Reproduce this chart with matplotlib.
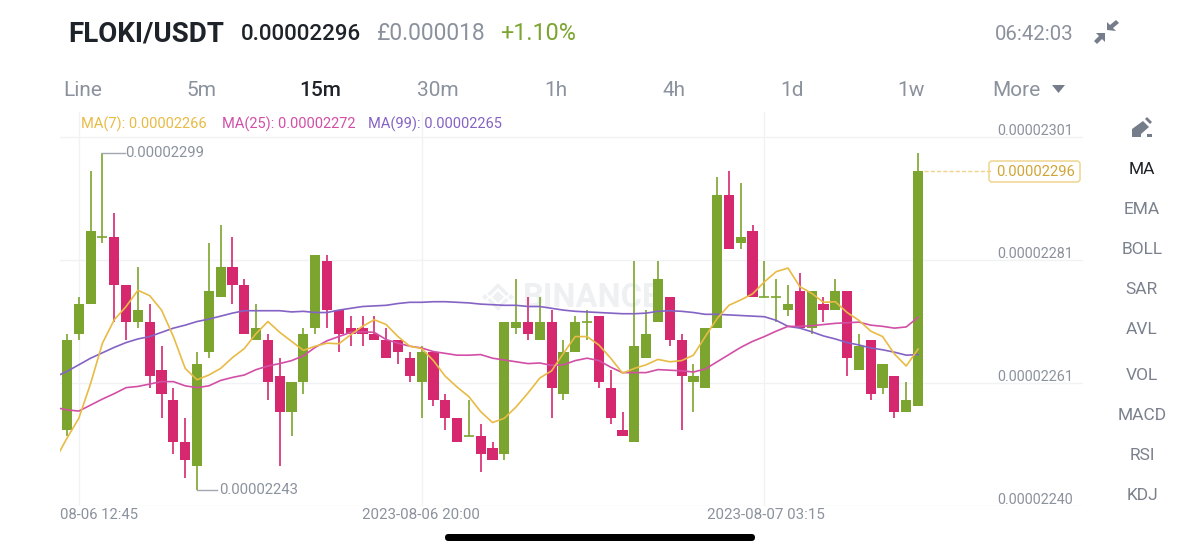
import numpy as np
import matplotlib
matplotlib.use("Agg")
import matplotlib.pyplot as plt
from matplotlib.patches import Polygon, FancyBboxPatch

plt.rcParams['font.family'] = ['Roboto', 'DejaVu Sans']

# prices are in units of 1e-8 USDT
opens = [2253,2269,2274,2285,2285,2277,2271,2271,2263,2258,2251,2247,2266,2275,2280,2277,2268,2268,2262,2256,
         2261,2270,2281,2273,2270,2270,2269,2268,2268,2265,2261,2266,2258,2255,2252,2252,2250,2249,2270,2271,
         2268,2271,2259,2266,2271,2272,2260,2253,2251,2265,2271,2275,2268,2261,2260,2270,2292,2284,2286,2275,
         2275,2273,2276,2270,2274,2273,2276,2263,2268,2260,2262,2256,2257]
closes = [2268,2274,2286,2285,2277,2271,2273,2262,2259,2251,2248,2264,2276,2280,2277,2269,2270,2261,2256,2261,
          2269,2282,2273,2269,2269,2269,2268,2265,2266,2262,2266,2258,2255,2251,2252,2249,2248,2271,2271,2269,
          2271,2260,2266,2271,2271,2261,2255,2252,2267,2269,2278,2268,2262,2262,2270,2292,2283,2285,2275,2275,
          2275,2274,2270,2276,2273,2276,2265,2267,2259,2264,2256,2258,2296]
highs = [2269,2275,2296,2299,2289,2277,2280,2274,2267,2260,2255,2266,2284,2287,2285,2278,2274,2269,2265,2261,
         2270,2282,2282,2273,2272,2272,2272,2270,2268,2266,2267,2266,2259,2255,2258,2254,2251,2271,2278,2275,
         2275,2273,2268,2272,2273,2272,2263,2256,2281,2273,2281,2275,2269,2264,2270,2295,2296,2294,2287,2281,
         2278,2277,2279,2276,2275,2278,2276,2269,2268,2264,2262,2261,2299]
lows = [2252,2268,2274,2284,2271,2268,2270,2260,2255,2249,2245,2243,2265,2275,2274,2269,2268,2258,2247,2252,
        2259,2269,2270,2266,2267,2267,2268,2265,2264,2261,2255,2257,2253,2251,2252,2246,2248,2248,2269,2268,
        2268,2255,2258,2266,2268,2260,2254,2252,2251,2265,2271,2267,2253,2256,2260,2270,2283,2283,2275,2275,
        2271,2272,2270,2269,2271,2273,2262,2263,2258,2259,2255,2256,2257]

# moving averages, first value sits one candle left of the first candle (clipped)
ma7 = [2248.0,2251.6,2254.9,2260.7,2267.4,2271.3,2273.5,2276.2,2275.3,2272.9,2268.5,2263.2,2261.3,2262.1,2263.2,
       2265.0,2266.5,2269.0,2271.0,2269.2,2267.7,2266.2,2266.9,2267.4,2267.3,2268.8,2270.2,2271.3,2270.5,2268.5,
       2266.9,2266.5,2264.5,2261.9,2260.1,2258.5,2256.0,2254.2,2254.9,2256.8,2259.1,2261.6,2262.8,2265.7,2268.5,
       2268.5,2267.1,2264.9,2262.4,2263.2,2263.8,2264.7,2264.3,2264.5,2265.4,2268.5,2271.5,2273.7,2274.6,2275.6,
       2277.6,2279.3,2279.9,2276.8,2275.7,2274.2,2274.3,2272.5,2271.2,2269.4,2268.5,2265.6,2263.6,2266.4]
ma25 = [2256.7,2256.3,2256.1,2257.1,2258.1,2259.0,2260.0,2260.2,2260.6,2261.0,2261.0,2260.3,2260.0,2260.3,2261.2,
        2261.7,2262.1,2263.0,2263.6,2264.0,2264.5,2265.3,2266.7,2267.8,2268.5,2269.2,2269.3,2269.2,2268.0,2267.4,
        2266.9,2266.6,2266.0,2265.7,2265.4,2265.4,2265.5,2264.9,2264.6,2264.3,2264.0,2264.1,2263.7,2263.8,2264.5,
        2264.9,2264.5,2263.4,2262.5,2262.5,2262.5,2263.0,2262.9,2262.8,2262.6,2263.1,2264.3,2265.5,2266.7,2267.7,
        2268.5,2269.4,2270.2,2270.2,2270.3,2270.5,2270.7,2270.8,2270.9,2270.4,2270.2,2269.9,2270.1,2271.7]
ma99 = [2261.8,2262.7,2263.8,2264.9,2265.8,2266.7,2267.5,2268.1,2268.5,2269.2,2269.9,2270.4,2271.0,2271.4,2271.9,
        2272.4,2272.8,2272.8,2272.8,2272.8,2272.6,2272.7,2272.5,2272.5,2272.9,2273.2,2273.5,2273.6,2273.7,2274.0,
        2274.2,2274.2,2274.3,2274.3,2274.2,2274.1,2273.9,2273.8,2273.7,2273.7,2273.5,2273.5,2273.2,2272.9,2272.7,
        2272.6,2272.5,2272.4,2272.3,2272.3,2272.4,2272.7,2272.8,2272.7,2272.5,2272.2,2272.2,2272.1,2272.0,2271.9,
        2271.8,2271.2,2270.2,2269.9,2269.3,2268.6,2268.1,2267.5,2267.1,2266.6,2266.3,2265.9,2265.4,2265.5]

grid_prices = [2301.7, 2281.25, 2260.8, 2240.3]
grid_labels = ['0.00002301', '0.00002281', '0.00002261', '0.00002240']
time_pos = [1, 30, 59]
time_labels = ['08-06 12:45', '2023-08-06 20:00', '2023-08-07 03:15']
intervals = ['Line', '5m', '15m', '30m', '1h', '4h', '1d', '1w', 'More']
interval_x = [83, 201, 320, 438, 556, 674, 792, 911, 1016]
indicators = ['MA', 'EMA', 'BOLL', 'SAR', 'AVL', 'VOL', 'MACD', 'RSI', 'KDJ']
indicator_y = [170, 210, 250, 290, 330, 375.5, 415.5, 455.5, 495.5]

GREEN = '#7ba52f'
RED = '#d6286f'
YEL = '#e8bb45'
PINK = '#d24fa6'
PURP = '#8463c4'
GRID = '#f1f2f4'
GRAY = '#8b929d'
DARK = '#1e2329'

W, H = 1200, 554
fig = plt.figure(figsize=(12, 5.54), dpi=100)

# whole figure in pixels, for the app chrome
ui = fig.add_axes([0, 0, 1, 1], zorder=0)
ui.set_xlim(0, W)
ui.set_ylim(H, 0)
ui.axis('off')

# chart area: x 60..1083, y 112..506 px
x0, x1, y0, y1 = 60, 1083, 112, 506
ax = fig.add_axes([x0 / W, 1 - y1 / H, (x1 - x0) / W, (y1 - y0) / H], zorder=1)
ax.patch.set_alpha(0)
for s in ax.spines.values():
    s.set_visible(False)
ax.set_xlim((x0 - 67) / 11.82, (x1 - 67) / 11.82)
ax.set_ylim(2299 - (y1 - 153.3) / 6.01, 2299 + (153.3 - y0) / 6.01)
ax.set_yticks(grid_prices)
ax.set_xticks(time_pos)
ax.set_yticklabels([])
ax.set_xticklabels([])
ax.tick_params(length=0)
ax.grid(True, color=GRID, lw=1)
ax.set_axisbelow(True)

# candles
for i in range(len(opens)):
    col = GREEN if closes[i] >= opens[i] else RED
    ax.vlines(i, lows[i], highs[i], color=col, lw=1.2, zorder=2)
    if opens[i] == closes[i]:
        ax.hlines(opens[i], i - 0.42, i + 0.42, color=col, lw=1.2, zorder=2)
    else:
        ax.bar(i, closes[i] - opens[i], bottom=opens[i], width=0.86, color=col, zorder=3)

ma_x = np.arange(-1, len(opens))
ax.plot(ma_x, ma99, color=PURP, lw=1.2, zorder=4)
ax.plot(ma_x, ma25, color=PINK, lw=1.2, zorder=5)
ax.plot(ma_x, ma7, color=YEL, lw=1.2, zorder=6)

# high / low markers
ax.plot([3, 4.9], [highs[3], highs[3]], color='#a3a8b0', lw=1, zorder=2)
ax.annotate('0.00002299', xy=(4.9, highs[3]), xytext=(0, 0), textcoords='offset pixels',
            va='center', ha='left', fontsize=10.7, color=GRAY)
ax.plot([11, 12.7], [lows[11], lows[11]], color='#a3a8b0', lw=1, zorder=2)
ax.annotate('0.00002243', xy=(12.7, lows[11]), xytext=(2, 0), textcoords='offset pixels',
            va='center', ha='left', fontsize=10.7, color=GRAY)

# last price
ax.plot([72.5, 78.2], [closes[-1], closes[-1]], color='#f0d38a', lw=1, ls=(0, (3, 1.5)), zorder=2)
ui.add_patch(FancyBboxPatch((989, 161), 91, 21, boxstyle='round,pad=0,rounding_size=3',
                            fc='white', ec='#efd58f', lw=1.1, zorder=3))
ui.text(1035.5, 172, '0.00002296', ha='center', va='center', fontsize=10.6, color='#cfa536', zorder=4)

# price labels
for p, lab in zip(grid_prices, grid_labels):
    ax.annotate(lab, xy=(1, p), xycoords=('axes fraction', 'data'), xytext=(-10, 6),
                textcoords='offset pixels', ha='right', va='center', fontsize=10.4, color=GRAY)

# time labels
ui.text(60, 515, time_labels[0], ha='left', va='center', fontsize=10.7, color=GRAY)
ui.text(421, 515, time_labels[1], ha='center', va='center', fontsize=10.9, color=GRAY)
ui.text(766, 515, time_labels[2], ha='center', va='center', fontsize=10.9, color=GRAY)

# MA legend
ui.text(81, 124.5, 'MA(7): 0.00002266', va='center', fontsize=10.5, color=YEL)
ui.text(222, 124.5, 'MA(25): 0.00002272', va='center', fontsize=10.5, color=PINK)
ui.text(368, 124.5, 'MA(99): 0.00002265', va='center', fontsize=10.5, color=PURP)

# header
ui.text(68, 34, 'FLOKI/USDT', va='center', fontsize=20, fontweight='bold', color=DARK)
ui.text(241, 34, '0.00002296', va='center', fontsize=16, fontweight='medium', color=DARK)
ui.text(377, 34, '£0.000018', va='center', fontsize=16.4, color=GRAY)
ui.text(500, 34, '+1.10%', va='center', fontsize=16.8, color=GREEN)
ui.text(995, 34, '06:42:03', va='center', fontsize=14.7, color=GRAY)

# compress icon
ui.add_patch(Polygon([[1107, 30], [1107, 22], [1110, 25], [1116, 20], [1119, 23], [1113, 28], [1116, 31]],
                     fc='#767d8a', ec='none'))
ui.add_patch(Polygon([[1105, 33], [1105, 42], [1102, 39], [1097, 44], [1094, 41], [1099, 36], [1096, 33]],
                     fc='#767d8a', ec='none'))

# interval row
for lab, x in zip(intervals, interval_x):
    c = DARK if lab == '15m' else GRAY
    ui.text(x, 91, lab, ha='center', va='center', fontsize=15, color=c,
            fontweight='medium' if lab == '15m' else 'normal')
ui.add_patch(Polygon([[1052, 85], [1065, 85], [1058.5, 93]], fc='#767d8a', ec='none'))

# pen icon
ui.add_patch(Polygon([[1132, 137], [1132, 129], [1143, 121], [1149, 127], [1141, 134], [1141, 137]],
                     fc='#767d8a', ec='none'))
ui.add_patch(Polygon([[1145, 119], [1147, 117], [1152, 122], [1150, 124]], fc='#767d8a', ec='none'))
ui.add_patch(Polygon([[1147, 134], [1152, 134], [1152, 137], [1147, 137]], fc='#767d8a', ec='none'))

# indicator column
for lab, y in zip(indicators, indicator_y):
    ui.text(1142, y, lab, ha='center', va='center', fontsize=12.5, color=DARK if lab == 'MA' else '#7a818d')

# watermark
ui.text(523, 298, 'BINANCE', va='center', fontsize=23.5, fontweight='bold', color='#eef0f2', zorder=0)
cx, cy = 498, 297
ui.add_patch(Polygon([[cx, cy - 6], [cx + 6, cy], [cx, cy + 6], [cx - 6, cy]], fc='#eef0f2', ec='none'))
for s in (-1, 1):
    ui.add_patch(Polygon([[cx - 11, cy + s * 3], [cx, cy + s * 14], [cx + 11, cy + s * 3], [cx + 8, cy + s * 1],
                          [cx, cy + s * 9], [cx - 8, cy + s * 1]], fc='#eef0f2', ec='none'))
    ui.add_patch(Polygon([[cx + s * 13, cy - 3], [cx + s * 16, cy], [cx + s * 13, cy + 3], [cx + s * 10, cy]],
                         fc='#eef0f2', ec='none'))

# phone home bar
ui.add_patch(FancyBboxPatch((445, 534), 310, 7, boxstyle='round,pad=0,rounding_size=3.5', fc='black', ec='none'))

fig.savefig('out.png', dpi=100, facecolor='white')
